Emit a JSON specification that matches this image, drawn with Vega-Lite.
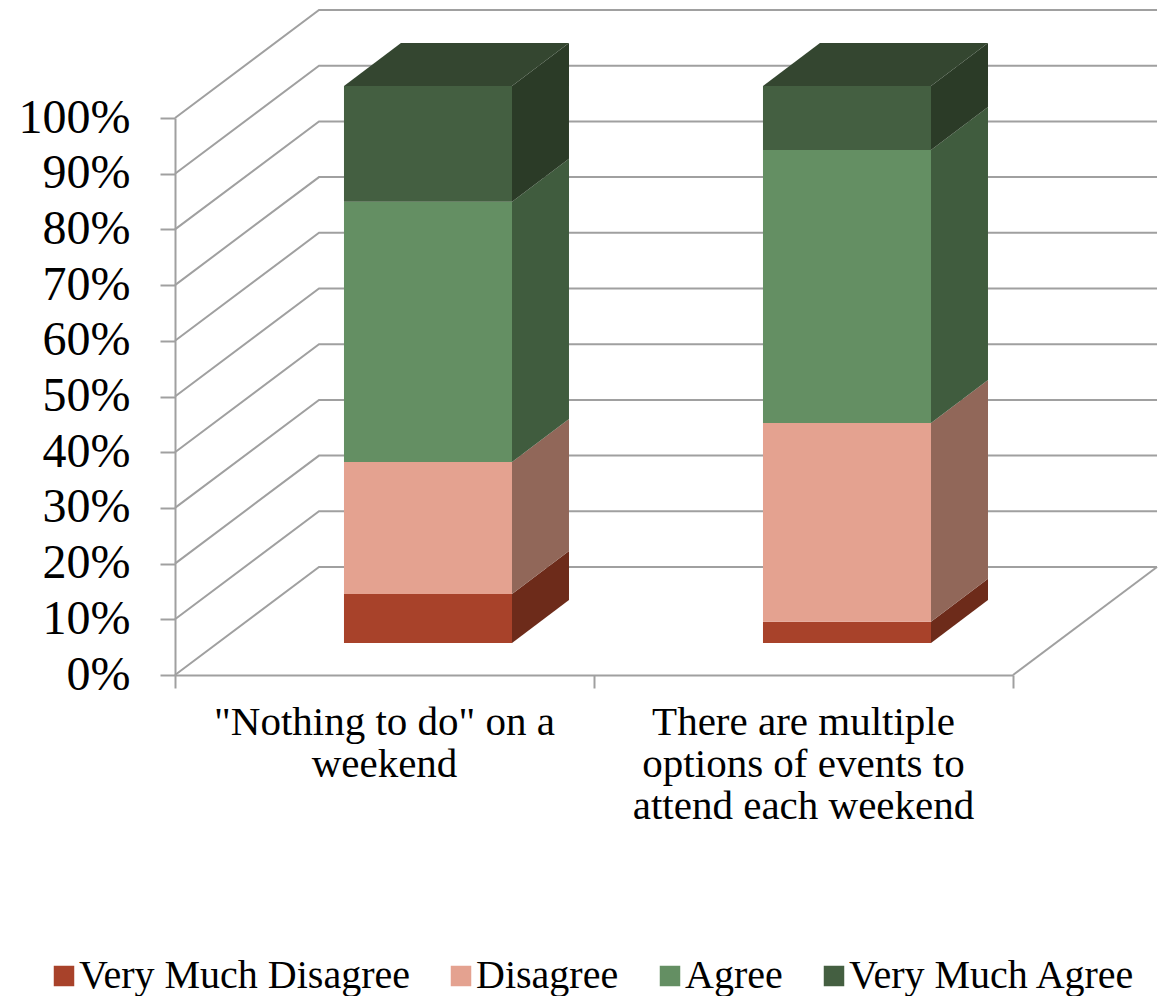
{
"$schema":"https://vega.github.io/schema/vega-lite/v6.json",
"width":838,"height":557,
"autosize":{"type":"none"},
"padding":{"left":175,"top":118,"right":148,"bottom":321},
"background":"white",
"datasets":{
"responses":[
{"category":"\"Nothing to do\" on a\nweekend","position":0,"response":"Very Much Disagree","value":8.8},
{"category":"\"Nothing to do\" on a\nweekend","position":0,"response":"Disagree","value":23.7},
{"category":"\"Nothing to do\" on a\nweekend","position":0,"response":"Agree","value":46.7},
{"category":"\"Nothing to do\" on a\nweekend","position":0,"response":"Very Much Agree","value":20.8},
{"category":"There are multiple\noptions of events to\nattend each weekend","position":1,"response":"Very Much Disagree","value":3.8},
{"category":"There are multiple\noptions of events to\nattend each weekend","position":1,"response":"Disagree","value":35.7},
{"category":"There are multiple\noptions of events to\nattend each weekend","position":1,"response":"Agree","value":49},
{"category":"There are multiple\noptions of events to\nattend each weekend","position":1,"response":"Very Much Agree","value":11.5}
],
"ticks":[{"tick":0},{"tick":10},{"tick":20},{"tick":30},{"tick":40},{"tick":50},{"tick":60},{"tick":70},{"tick":80},{"tick":90},{"tick":100}]
},
"layer":[
{
"data":{"name":"ticks"},
"transform":[
{"calculate":"[[0,0],[0.3437,19.39],[2.3437,19.39]]","as":"pts"},
{"flatten":["pts"]},
{"calculate":"datum.pts[0]","as":"gx"},
{"calculate":"datum.tick+datum.pts[1]","as":"gy"}
],
"mark":{"type":"line","color":"#A0A0A0","strokeWidth":2,"clip":false},
"encoding":{
"x":{"field":"gx","type":"quantitative","scale":{"domain":[0,2],"nice":false,"zero":false},
"axis":{"values":[0,1,2],"labels":false,"title":null,"grid":false,"domainColor":"#A0A0A0","domainWidth":2,"tickColor":"#A0A0A0","tickWidth":2,"tickSize":13}},
"y":{"field":"gy","type":"quantitative","scale":{"domain":[0,100],"nice":false,"zero":false},
"axis":{"values":[0,10,20,30,40,50,60,70,80,90,100],"labelExpr":"datum.value+'%'","title":null,"grid":false,"domainColor":"#A0A0A0","domainWidth":2,"tickColor":"#A0A0A0","tickWidth":2,"tickSize":15,"labelFont":"Liberation Serif","labelFontSize":48,"labelColor":"#000000","labelPadding":30}},
"detail":{"field":"tick"},
"order":{"field":"gx"}
}
},
{
"data":{"name":"ticks"},
"transform":[
{"filter":"datum.tick==0"},
{"calculate":"[[2.3437,19.39],[2,0]]","as":"pts"},
{"flatten":["pts"]},
{"calculate":"datum.pts[0]","as":"gx"},
{"calculate":"datum.pts[1]","as":"gy"}
],
"mark":{"type":"line","color":"#A0A0A0","strokeWidth":2,"clip":false},
"encoding":{
"x":{"field":"gx","type":"quantitative","scale":{"domain":[0,2],"nice":false,"zero":false}},
"y":{"field":"gy","type":"quantitative","scale":{"domain":[0,100],"nice":false,"zero":false}}
}
},
{
"data":{"name":"responses"},
"transform":[
{"calculate":"indexof(['Very Much Disagree','Disagree','Agree','Very Much Agree'],datum.response)","as":"rank"},
{"stack":"value","groupby":["category"],"sort":[{"field":"rank","order":"ascending"}],"as":["v0","v1"]},
{"calculate":"[0,1]","as":"t"},
{"flatten":["t"]},
{"calculate":"datum.position+0.8043+datum.t*0.136","as":"sx"},
{"calculate":"datum.v0+5.75+datum.t*7.72","as":"s0"},
{"calculate":"datum.v1+5.75+datum.t*7.72","as":"s1"}
],
"mark":{"type":"area","interpolate":"linear","clip":false,"orient":"vertical"},
"encoding":{
"x":{"field":"sx","type":"quantitative","scale":{"domain":[0,2],"nice":false,"zero":false}},
"y":{"field":"s0","type":"quantitative","scale":{"domain":[0,100],"nice":false,"zero":false},"stack":null},
"y2":{"field":"s1"},
"detail":{"field":"position"},
"fill":{"field":"response","type":"nominal","legend":null,"scale":{"domain":["Very Much Disagree","Disagree","Agree","Very Much Agree"],"range":["#6D2B1A","#916759","#405C3E","#2B3B27"]}}
}
},
{
"data":{"name":"responses"},
"transform":[
{"filter":"datum.response=='Very Much Agree'"},
{"calculate":"[[0,0,0],[0.136,0,7.72],[0.401,0,7.72],[0.537,7.72,7.72]]","as":"pts"},
{"flatten":["pts"]},
{"calculate":"datum.position+0.4033+datum.pts[0]","as":"tx"},
{"calculate":"105.75+datum.pts[1]","as":"t0"},
{"calculate":"105.75+datum.pts[2]","as":"t1"}
],
"mark":{"type":"area","interpolate":"linear","clip":false,"orient":"vertical","fill":"#344630"},
"encoding":{
"x":{"field":"tx","type":"quantitative","scale":{"domain":[0,2],"nice":false,"zero":false}},
"y":{"field":"t0","type":"quantitative","scale":{"domain":[0,100],"nice":false,"zero":false},"stack":null},
"y2":{"field":"t1"},
"detail":{"field":"position"}
}
},
{
"data":{"name":"responses"},
"transform":[
{"calculate":"indexof(['Very Much Disagree','Disagree','Agree','Very Much Agree'],datum.response)","as":"rank"},
{"stack":"value","groupby":["category"],"sort":[{"field":"rank","order":"ascending"}],"as":["v0","v1"]},
{"calculate":"datum.position+0.4033","as":"bx0"},
{"calculate":"datum.position+0.8043","as":"bx1"},
{"calculate":"datum.v0+5.75","as":"by0"},
{"calculate":"datum.v1+5.75","as":"by1"}
],
"mark":{"type":"rect","clip":false},
"encoding":{
"x":{"field":"bx0","type":"quantitative","scale":{"domain":[0,2],"nice":false,"zero":false}},
"x2":{"field":"bx1"},
"y":{"field":"by0","type":"quantitative","scale":{"domain":[0,100],"nice":false,"zero":false}},
"y2":{"field":"by1"},
"color":{"field":"response","type":"nominal","title":null,
"scale":{"domain":["Very Much Disagree","Disagree","Agree","Very Much Agree"],"range":["#A8422A","#E4A290","#648F63","#445F41"]},
"legend":{"orient":"none","legendX":-131,"legendY":838,"direction":"horizontal","columns":4,"symbolType":"square","symbolSize":420,"symbolStrokeWidth":0,"symbolOpacity":1,"labelFont":"Liberation Serif","labelFontSize":40,"labelColor":"#000000","labelLimit":500,"labelOffset":-5,"columnPadding":31,"title":null}}
}
},
{
"data":{"name":"responses"},
"transform":[
{"filter":"datum.response=='Agree'"},
{"calculate":"datum.position+0.5","as":"cx"},
{"calculate":"0","as":"cy"}
],
"mark":{"type":"text","font":"Liberation Serif","fontSize":41,"color":"#000000","baseline":"top","align":"center","lineBreak":"\n","lineHeight":42,"yOffset":28,"clip":false},
"encoding":{
"x":{"field":"cx","type":"quantitative","scale":{"domain":[0,2],"nice":false,"zero":false}},
"y":{"field":"cy","type":"quantitative","scale":{"domain":[0,100],"nice":false,"zero":false}},
"text":{"field":"category"}
}
}
],
"resolve":{"scale":{"color":"independent","fill":"independent"}},
"config":{"view":{"stroke":null}}
}
